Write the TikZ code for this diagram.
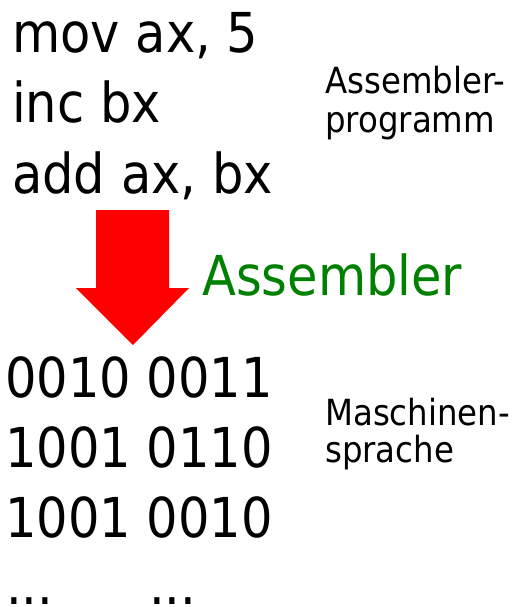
\documentclass[tikz,border=0pt]{standalone}
\usepackage{fontspec}
\setmainfont{DejaVu Sans}[FakeStretch=0.9]
\usepackage{xcolor}
\definecolor{asmgreen}{HTML}{008000}
\begin{document}
\begin{tikzpicture}[x=1pt,y=-1pt]
    \tikzstyle{bigline} = [anchor=base west,inner sep=0pt,font=\fontsize{55}{70}\selectfont]
    \tikzstyle{sidetext} = [anchor=base west,inner sep=0pt,font=\fontsize{36}{40}\selectfont]
        \useasboundingbox (0,0) rectangle (513,607);
        \node[bigline] (mov) at (12,53) {mov ax, 5};
        \node[bigline] (inc) at (12,123) {inc bx};
        \node[bigline] (add) at (12,193) {add ax, bx};
        \node[sidetext] (prog1) at (325,94) {Assembler-};
        \node[sidetext] (prog2) at (325,132) {programm};
        \fill[red] (96,210) -- (169,210) -- (169,288) -- (189,288) -- (133,345) -- (76,288) -- (96,288) -- cycle;
        \node[bigline,text=asmgreen] (asm) at (202,295) {Assembler};
        \node[bigline] (bin1) at (5,397) {0010 0011};
        \node[bigline] (bin2) at (5,467) {1001 0110};
        \node[bigline] (bin3) at (5,537) {1001 0010};
        \node[bigline] (dots1) at (6,604) {...};
        \node[bigline] (dots2) at (149,604) {...};
        \node[sidetext] (mach1) at (325,425) {Maschinen-};
        \node[sidetext] (mach2) at (325,462) {sprache};
    \end{tikzpicture}
\end{document}
